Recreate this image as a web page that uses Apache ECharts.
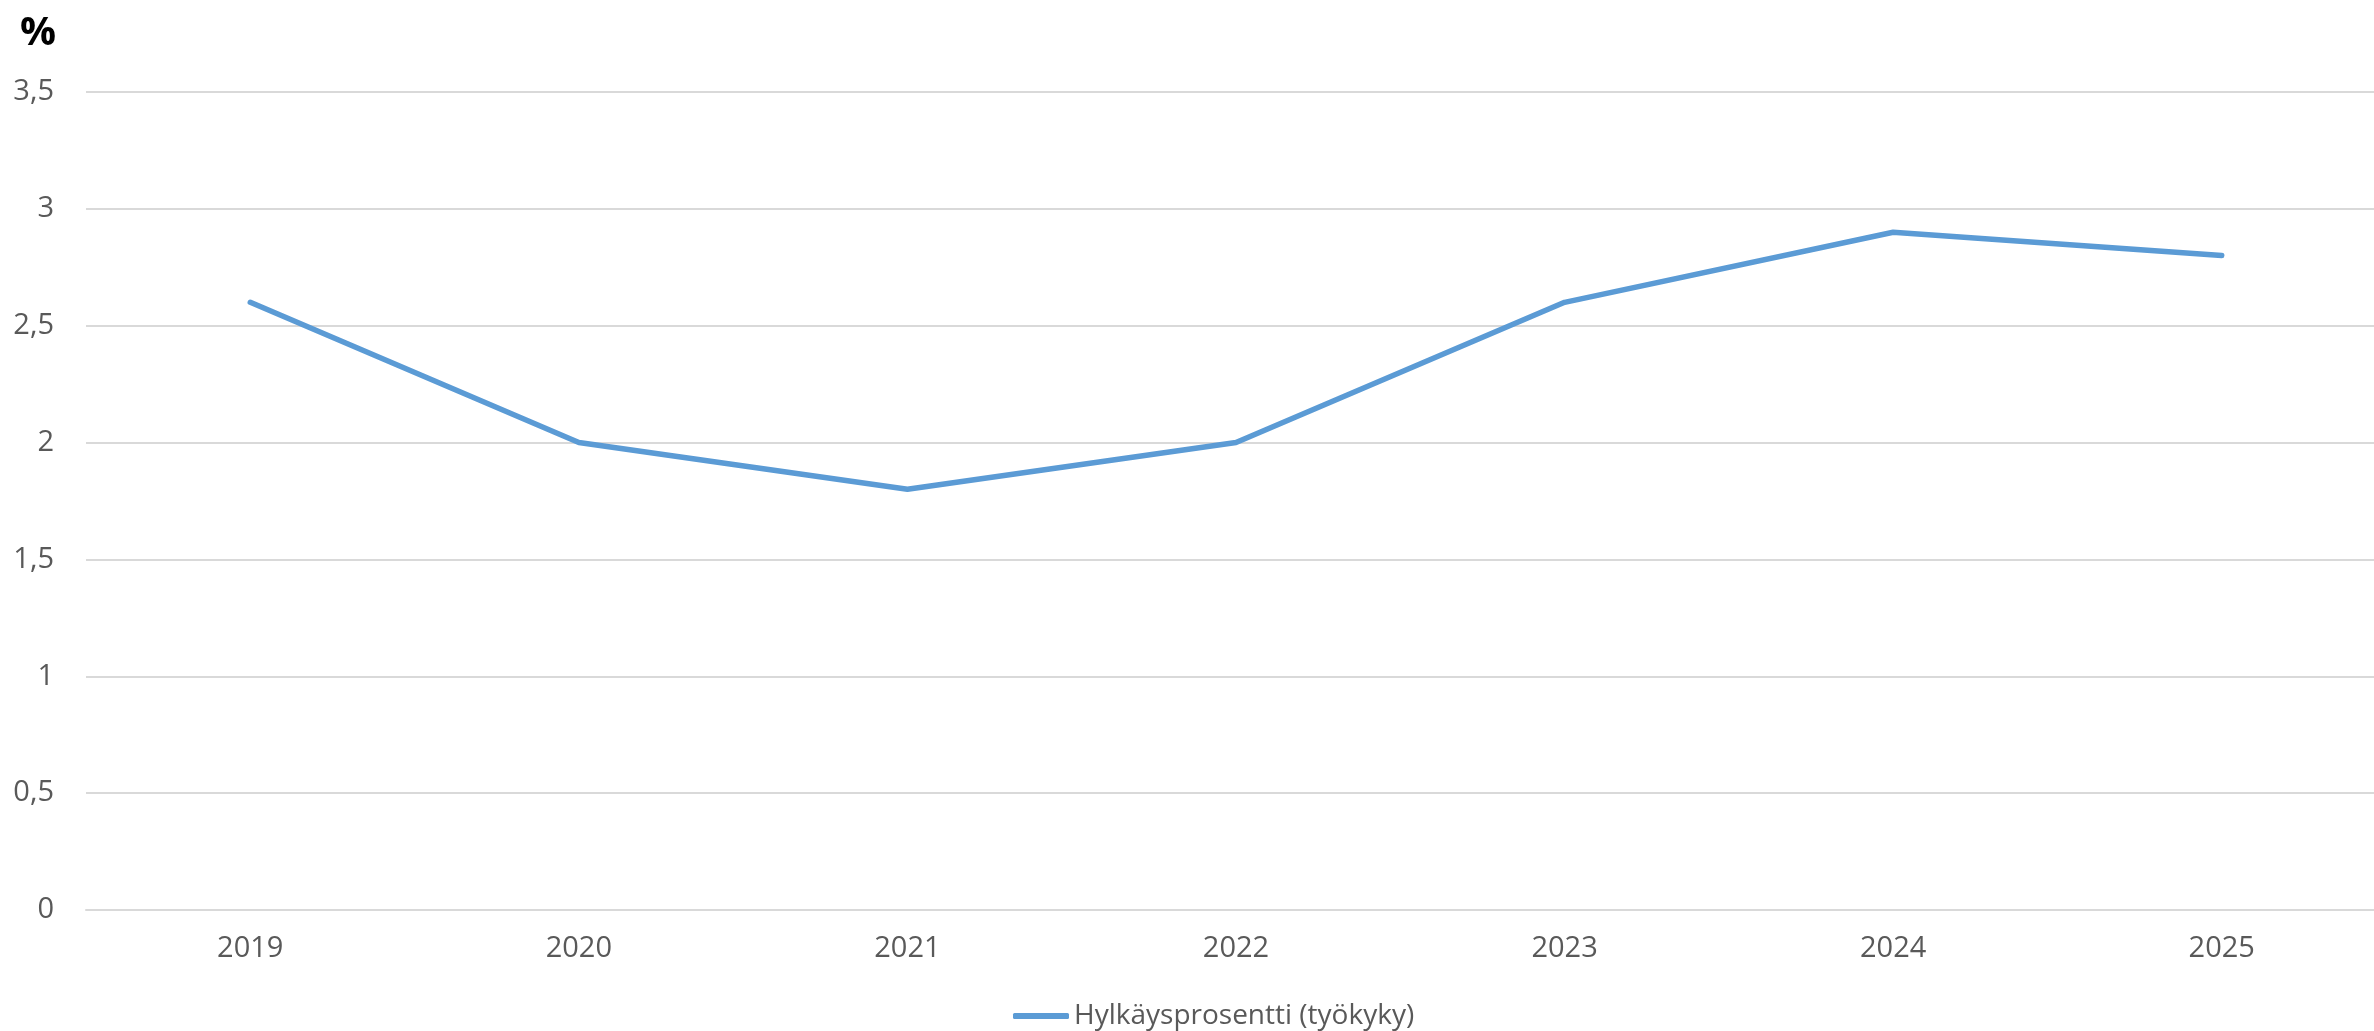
<!DOCTYPE html>
<html><head><meta charset="utf-8">
<script src="https://cdn.jsdelivr.net/npm/echarts@6/dist/echarts.min.js"></script>
<style>html,body{margin:0;padding:0;background:#fff}#c{width:2374px;height:1031px}</style>
</head><body><div id="c"></div>
<script>
const categories = ['2019','2020','2021','2022','2023','2024','2025'];
const values = [2.6, 2.0, 1.8, 2.0, 2.6, 2.9, 2.8];
const seriesName = 'Hylkäysprosentti (työkyky)';
const unitLabel = '%';
const font = '"Open Sans", "Noto Sans", sans-serif';
const chart = echarts.init(document.getElementById('c'));
chart.setOption({
  animation: false,
  title: { text: unitLabel, left: 15, top: 9, textStyle: { fontFamily: font, fontSize: 40, fontWeight: 'bold', color: '#000' } },
  grid: { left: 86, width: 2300, top: 92, bottom: 121, containLabel: false, outerBoundsMode: 'none' },
  legend: {
    data: [seriesName], left: 1008, top: 997,
    icon: 'roundRect', itemWidth: 56, itemHeight: 6, itemGap: 20,
    textStyle: { fontFamily: font, fontSize: 28, color: '#595959' }
  },
  xAxis: {
    type: 'category', data: categories, boundaryGap: true,
    axisLine: { lineStyle: { color: '#d9d9d9', width: 2 } },
    axisTick: { show: false },
    axisLabel: { fontFamily: font, fontSize: 29, color: '#595959', margin: 24 }
  },
  yAxis: {
    type: 'value', min: 0, max: 3.5, interval: 0.5,
    axisLine: { show: false }, axisTick: { show: false },
    splitLine: { lineStyle: { color: '#d9d9d9', width: 2 } },
    axisLabel: { fontFamily: font, fontSize: 29, color: '#595959', margin: 32,
      formatter: v => String(v).replace('.', ',') }
  },
  series: [{
    name: seriesName, type: 'line', data: values, symbol: 'none',
    lineStyle: { color: '#5b9bd5', width: 5.5, cap: 'round', join: 'round' },
    itemStyle: { color: '#5b9bd5' }
  }]
});
</script></body></html>
